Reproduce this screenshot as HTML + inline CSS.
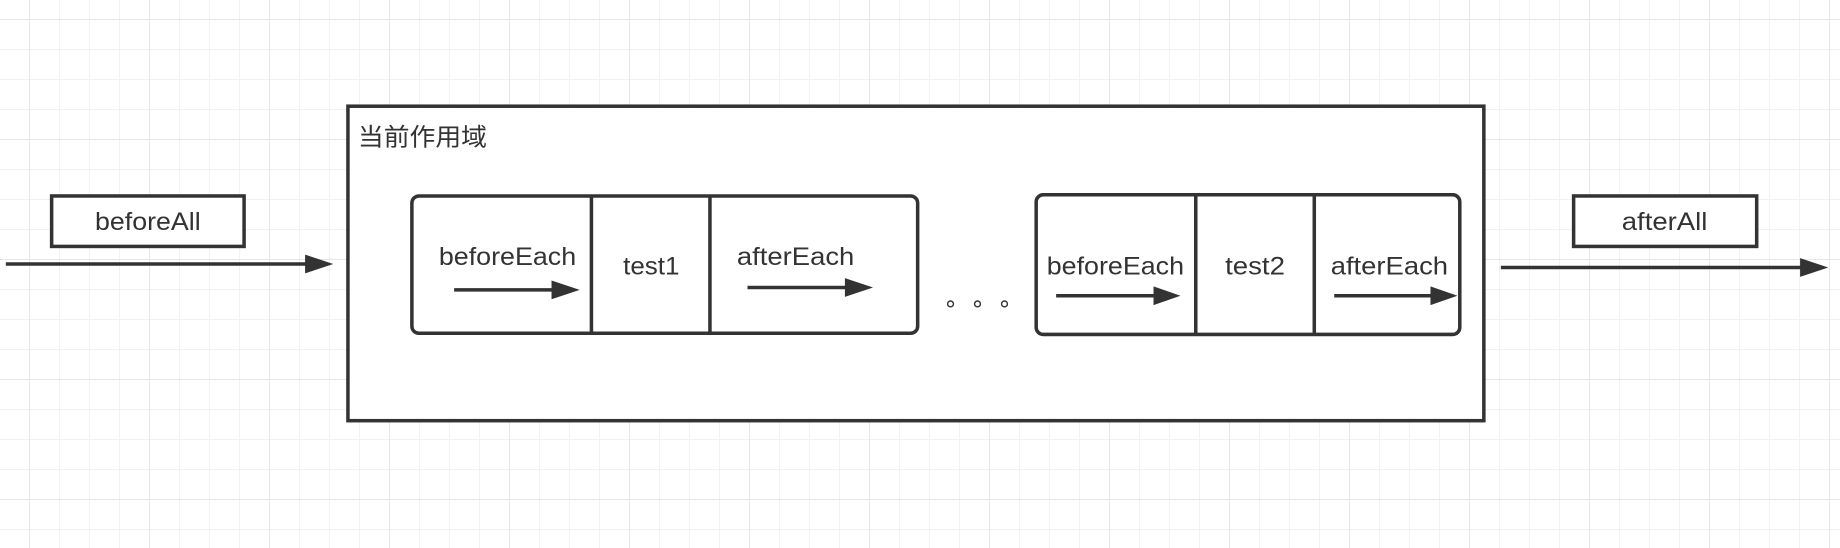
<!DOCTYPE html>
<html><head><meta charset="utf-8"><style>
html,body{margin:0;padding:0}
body{width:1840px;height:548px;overflow:hidden;background:#fff;position:relative}
.g{position:absolute;inset:0;
background-image:
linear-gradient(to right,#e6e6e6 1px,transparent 1px),
linear-gradient(to bottom,#e6e6e6 1px,transparent 1px),
linear-gradient(to right,#f2f2f2 1px,transparent 1px),
linear-gradient(to bottom,#f2f2f2 1px,transparent 1px);
background-size:120px 120px,120px 120px,30px 30px,30px 30px;
background-position:29px 0,0 19px,29px 0,0 19px;}
svg{position:absolute;left:0;top:0}
text{font-family:"Liberation Sans","Noto Sans CJK SC",sans-serif;fill:#333;font-size:21px}
</style></head><body>
<div class="g"></div>
<svg width="1840" height="548" viewBox="0 0 1568 467" preserveAspectRatio="none">
<g stroke="#333" fill="none">
<rect x="44" y="167" width="164" height="43" stroke-width="3" fill="#fff"/>
<line x1="5" y1="225" x2="262" y2="225" stroke-width="3"/>
<rect x="296.5" y="90.5" width="968" height="268" stroke-width="3" fill="#fff"/>
<rect x="351" y="167" width="431" height="117" rx="6" stroke-width="3" fill="#fff"/>
<line x1="504" y1="167" x2="504" y2="284" stroke-width="3"/>
<line x1="605" y1="167" x2="605" y2="284" stroke-width="3"/>
<line x1="387" y1="247" x2="473" y2="247" stroke-width="3"/>
<line x1="637" y1="245" x2="723" y2="245" stroke-width="3"/>
<rect x="883" y="166" width="361" height="119" rx="6" stroke-width="3" fill="#fff"/>
<line x1="1019" y1="166" x2="1019" y2="285" stroke-width="3"/>
<line x1="1120" y1="166" x2="1120" y2="285" stroke-width="3"/>
<line x1="900" y1="252" x2="986" y2="252" stroke-width="3"/>
<line x1="1137" y1="252" x2="1222" y2="252" stroke-width="3"/>
<rect x="1341" y="167" width="156" height="43" stroke-width="3" fill="#fff"/>
<line x1="1279" y1="228" x2="1537" y2="228" stroke-width="3"/>
</g>
<g fill="#333">
<polygon points="260,217 284,225 260,233"/>
<polygon points="470,239 494,247 470,255"/>
<polygon points="720,237 744,245 720,253"/>
<polygon points="983,244 1006,252 983,260"/>
<polygon points="1219,244 1242,252 1219,260"/>
<polygon points="1534,220 1558,228 1534,236"/>
</g>
<g fill="none" stroke="#333" stroke-width="1.2">
<circle cx="810" cy="259" r="2.5"/><circle cx="833" cy="259" r="2.5"/><circle cx="856" cy="259" r="2.5"/>
</g>
<text x="81" y="196" textLength="90" lengthAdjust="spacingAndGlyphs">beforeAll</text>
<text x="305" y="124" font-size="21" textLength="110" lengthAdjust="spacingAndGlyphs">当前作用域</text>
<text x="374" y="226" textLength="117" lengthAdjust="spacingAndGlyphs">beforeEach</text>
<text x="531" y="234" textLength="48" lengthAdjust="spacingAndGlyphs">test1</text>
<text x="628" y="226" textLength="100" lengthAdjust="spacingAndGlyphs">afterEach</text>
<text x="892" y="234" textLength="117" lengthAdjust="spacingAndGlyphs">beforeEach</text>
<text x="1044" y="234" textLength="51" lengthAdjust="spacingAndGlyphs">test2</text>
<text x="1134" y="234" textLength="100" lengthAdjust="spacingAndGlyphs">afterEach</text>
<text x="1382" y="196" textLength="73" lengthAdjust="spacingAndGlyphs">afterAll</text>
</svg>
</body></html>
